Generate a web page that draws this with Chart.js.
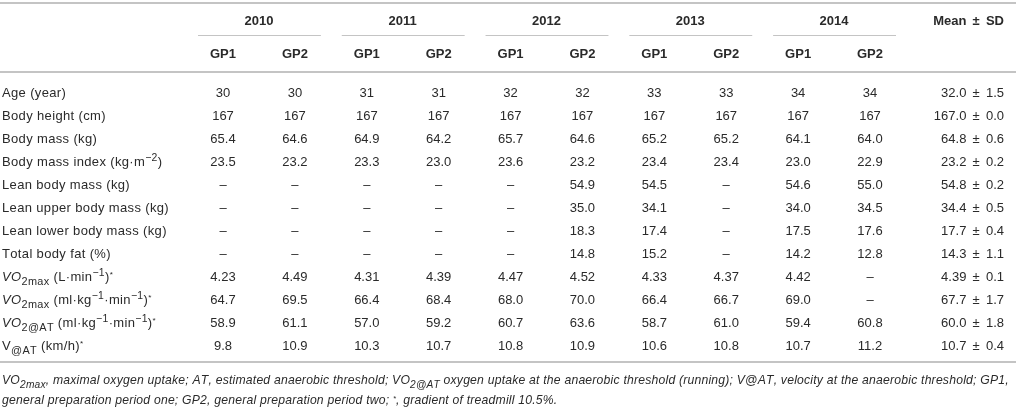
<!DOCTYPE html>
<html>
<head>
<meta charset="utf-8">
<script src="https://cdn.jsdelivr.net/npm/chart.js@4/dist/chart.umd.min.js"></script>
<style>
  html, body { margin: 0; padding: 0; background: #fff; }
  #wrap { width: 1016px; height: 411px; }
</style>
</head>
<body>
<div id="wrap"><canvas id="table_chart" width="1016" height="411"></canvas></div>
<script>
// row labels, with a tiny markup: _{sub}  ^{sup}  *{italic}
var rowLabels = [
    "Age (year)",
    "Body height (cm)",
    "Body mass (kg)",
    "Body mass index (kg·m^{−2})",
    "Lean body mass (kg)",
    "Lean upper body mass (kg)",
    "Lean lower body mass (kg)",
    "Total body fat (%)",
    "*{VO}_{2max} (L·min^{−1})^{*}",
    "*{VO}_{2max} (ml·kg^{−1}·min^{−1})^{*}",
    "*{VO}_{2@AT} (ml·kg^{−1}·min^{−1})^{*}",
    "V_{@AT} (km/h)^{*}"
];
var rowDecimals = [0, 0, 1, 1, 1, 1, 1, 1, 2, 1, 1, 1];

var years = ["2010", "2011", "2012", "2013", "2014"];
var periods = ["GP1", "GP2"];
var meanHeader = "Mean ± SD";

// one array per column, null = not measured
var gp1_2010 = [30, 167, 65.4, 23.5, null, null, null, null, 4.23, 64.7, 58.9, 9.8];
var gp2_2010 = [30, 167, 64.6, 23.2, null, null, null, null, 4.49, 69.5, 61.1, 10.9];
var gp1_2011 = [31, 167, 64.9, 23.3, null, null, null, null, 4.31, 66.4, 57.0, 10.3];
var gp2_2011 = [31, 167, 64.2, 23.0, null, null, null, null, 4.39, 68.4, 59.2, 10.7];
var gp1_2012 = [32, 167, 65.7, 23.6, null, null, null, null, 4.47, 68.0, 60.7, 10.8];
var gp2_2012 = [32, 167, 64.6, 23.2, 54.9, 35.0, 18.3, 14.8, 4.52, 70.0, 63.6, 10.9];
var gp1_2013 = [33, 167, 65.2, 23.4, 54.5, 34.1, 17.4, 15.2, 4.33, 66.4, 58.7, 10.6];
var gp2_2013 = [33, 167, 65.2, 23.4, null, null, null, null, 4.37, 66.7, 61.0, 10.8];
var gp1_2014 = [34, 167, 64.1, 23.0, 54.6, 34.0, 17.5, 14.2, 4.42, 69.0, 59.4, 10.7];
var gp2_2014 = [34, 167, 64.0, 22.9, 55.0, 34.5, 17.6, 12.8, null, null, 60.8, 11.2];

var means = [32.0, 167.0, 64.8, 23.2, 54.8, 34.4, 17.7, 14.3, 4.39, 67.7, 60.0, 10.7];
var sds = [1.5, 0.0, 0.6, 0.2, 0.2, 0.5, 0.4, 1.1, 0.1, 1.7, 1.8, 0.4];

var footnoteLines = [
    "*{VO_{2max}, maximal oxygen uptake; AT, estimated anaerobic threshold; VO_{2@AT} oxygen uptake at the anaerobic threshold (running); V@AT, velocity at the anaerobic threshold; GP1,}",
    "*{general preparation period one; GP2, general preparation period two; ^{*}, gradient of treadmill 10.5%.}"
];

var columns = [gp1_2010, gp2_2010, gp1_2011, gp2_2011, gp1_2012, gp2_2012, gp1_2013, gp2_2013, gp1_2014, gp2_2014];
var columnKeys = [];
years.forEach(function(yr) {
    periods.forEach(function(p) { columnKeys.push(p + " " + yr); });
});

var datasets = columns.map(function(col, ci) {
    return {
        label: columnKeys[ci],
        data: col.map(function(v, ri) {
            return { x: columnKeys[ci], y: rowLabels[ri], v: v, d: rowDecimals[ri] };
        })
    };
});

var TEXT = "#2a2a2a";
var RULE = "#c4c4c4";
var FONT = "'Liberation Sans', Arial, Helvetica, sans-serif";
var PM = " \u2009±\u2009 "; // the ± in the original sits a bit wider

// parse markup into segments {text, sub, sup, it}
function parseRich(str, state) {
    state = state || { sub: false, sup: false, it: false };
    var out = [];
    var re = /([_^*])\{/g;
    var i = 0;
    while (i < str.length) {
        re.lastIndex = i;
        var m = re.exec(str);
        if (!m) { out.push({ text: str.slice(i), sub: state.sub, sup: state.sup, it: state.it }); break; }
        if (m.index > i) out.push({ text: str.slice(i, m.index), sub: state.sub, sup: state.sup, it: state.it });
        var depth = 1, j = m.index + 2;
        while (j < str.length && depth > 0) {
            if (str[j] === "{") depth++;
            else if (str[j] === "}") depth--;
            j++;
        }
        var inner = str.slice(m.index + 2, j - 1);
        var ns = { sub: state.sub, sup: state.sup, it: state.it };
        if (m[1] === "_") ns.sub = true;
        if (m[1] === "^") ns.sup = true;
        if (m[1] === "*") ns.it = true;
        out = out.concat(parseRich(inner, ns));
        i = j;
    }
    return out;
}

function segFont(seg, size, bold) {
    var s = size;
    if (seg.sub) s = size * 0.84;
    if (seg.sup) s = seg.text === "*" ? size * 0.62 : size * 0.8;
    return (seg.it ? "italic " : "") + (bold ? "bold " : "") + s.toFixed(1) + "px " + FONT;
}

function segWidth(ctx, text, ls) {
    var w = 0;
    for (var k = 0; k < text.length; k++) w += ctx.measureText(text[k]).width + ls;
    return w;
}

function measureRich(ctx, str, size, opts) {
    var segs = parseRich(str);
    var ls = opts.ls || 0;
    var total = 0;
    segs.forEach(function(seg) {
        ctx.font = segFont(seg, size, opts.bold);
        seg.w = ls ? segWidth(ctx, seg.text, ls) : ctx.measureText(seg.text).width;
        total += seg.w;
    });
    return { segs: segs, total: total };
}

function drawRich(ctx, str, x, y, size, opts) {
    opts = opts || {};
    var ls = opts.ls || 0;
    var r = measureRich(ctx, str, size, opts);
    var cx = x;
    if (opts.align === "right") cx = x - r.total;
    if (opts.align === "center") cx = x - r.total / 2;
    ctx.textAlign = "left";
    ctx.textBaseline = "alphabetic";
    var base = y + size * 0.36;
    r.segs.forEach(function(seg) {
        ctx.font = segFont(seg, size, opts.bold);
        var dy = 0;
        if (seg.sub) dy = size * 0.3;
        if (seg.sup) dy = seg.text === "*" ? -size * 0.3 : -size * 0.38;
        if (ls) {
            var px = cx;
            for (var k = 0; k < seg.text.length; k++) {
                ctx.fillText(seg.text[k], px, base + dy);
                px += ctx.measureText(seg.text[k]).width + ls;
            }
        } else {
            ctx.fillText(seg.text, cx, base + dy);
        }
        cx += seg.w;
    });
    return r.total;
}

function hline(ctx, x1, x2, y, w, color) {
    ctx.save();
    ctx.strokeStyle = color;
    ctx.lineWidth = w;
    ctx.beginPath();
    ctx.moveTo(x1, y);
    ctx.lineTo(x2, y);
    ctx.stroke();
    ctx.restore();
}

var tablePlugin = {
    id: "table_text",
    afterDatasetsDraw: function(chart) {
        var ctx = chart.ctx;
        var xs = chart.scales.x;
        var ys = chart.scales.y;
        var rightEdge = chart.width - 12;
        ctx.save();
        ctx.fillStyle = TEXT;

        // rules
        hline(ctx, 0, chart.width, 3, 2, RULE);
        hline(ctx, 0, chart.width, 72, 2, RULE);
        hline(ctx, 0, chart.width, 362, 2, RULE);

        // header
        years.forEach(function(yr, yi) {
            var x1 = xs.getPixelForValue(yi * 2);
            var x2 = xs.getPixelForValue(yi * 2 + 1);
            var mid = (x1 + x2) / 2;
            drawRich(ctx, yr, mid, 20, 13, { bold: true, align: "center" });
            hline(ctx, x1 - 25, x2 + 26, 35.5, 1, RULE);
            periods.forEach(function(p, pi) {
                drawRich(ctx, p, pi === 0 ? x1 : x2, 53, 13, { bold: true, align: "center" });
            });
        });
        drawRich(ctx, meanHeader.replace(" ± ", PM), rightEdge, 20, 13, { bold: true, align: "right" });

        // row labels
        rowLabels.forEach(function(lbl, ri) {
            drawRich(ctx, lbl, 2, ys.getPixelForValue(ri), 13, { ls: 0.35 });
        });

        // cells, placed at the points the scales gave us
        chart.data.datasets.forEach(function(ds, di) {
            var meta = chart.getDatasetMeta(di);
            meta.data.forEach(function(pt, pi) {
                var raw = ds.data[pi];
                var txt = raw.v === null ? "–" : raw.v.toFixed(raw.d);
                drawRich(ctx, txt, pt.x, pt.y, 13, { align: "center" });
            });
        });

        // mean ± sd
        means.forEach(function(m, ri) {
            var txt = m.toFixed(Math.max(1, rowDecimals[ri])) + PM + sds[ri].toFixed(1);
            drawRich(ctx, txt, rightEdge, ys.getPixelForValue(ri), 13, { align: "right" });
        });

        // footnote, spread to the table width like the original
        var fm = measureRich(ctx, footnoteLines[0], 12.2, {});
        var nch = 0;
        fm.segs.forEach(function(s) { nch += s.text.length; });
        var fls = Math.max(0, (chart.width - 12 - 2 - fm.total) / nch);
        drawRich(ctx, footnoteLines[0], 2, 380, 12.2, { ls: fls });
        drawRich(ctx, footnoteLines[1], 2, 400, 12.2, { ls: fls });
        ctx.restore();
    }
};

new Chart(document.getElementById("table_chart"), {
    type: "scatter",
    data: { datasets: datasets },
    options: {
        responsive: false,
        animation: false,
        devicePixelRatio: 1,
        layout: { padding: { left: 223, right: 146, top: 92, bottom: 66 } },
        scales: {
            x: { type: "category", labels: columnKeys, offset: false, display: false },
            y: { type: "category", labels: rowLabels, offset: false, display: false }
        },
        elements: { point: { radius: 0, hoverRadius: 0 } },
        plugins: { legend: { display: false }, tooltip: { enabled: false } }
    },
    plugins: [tablePlugin]
});
</script>
</body>
</html>
